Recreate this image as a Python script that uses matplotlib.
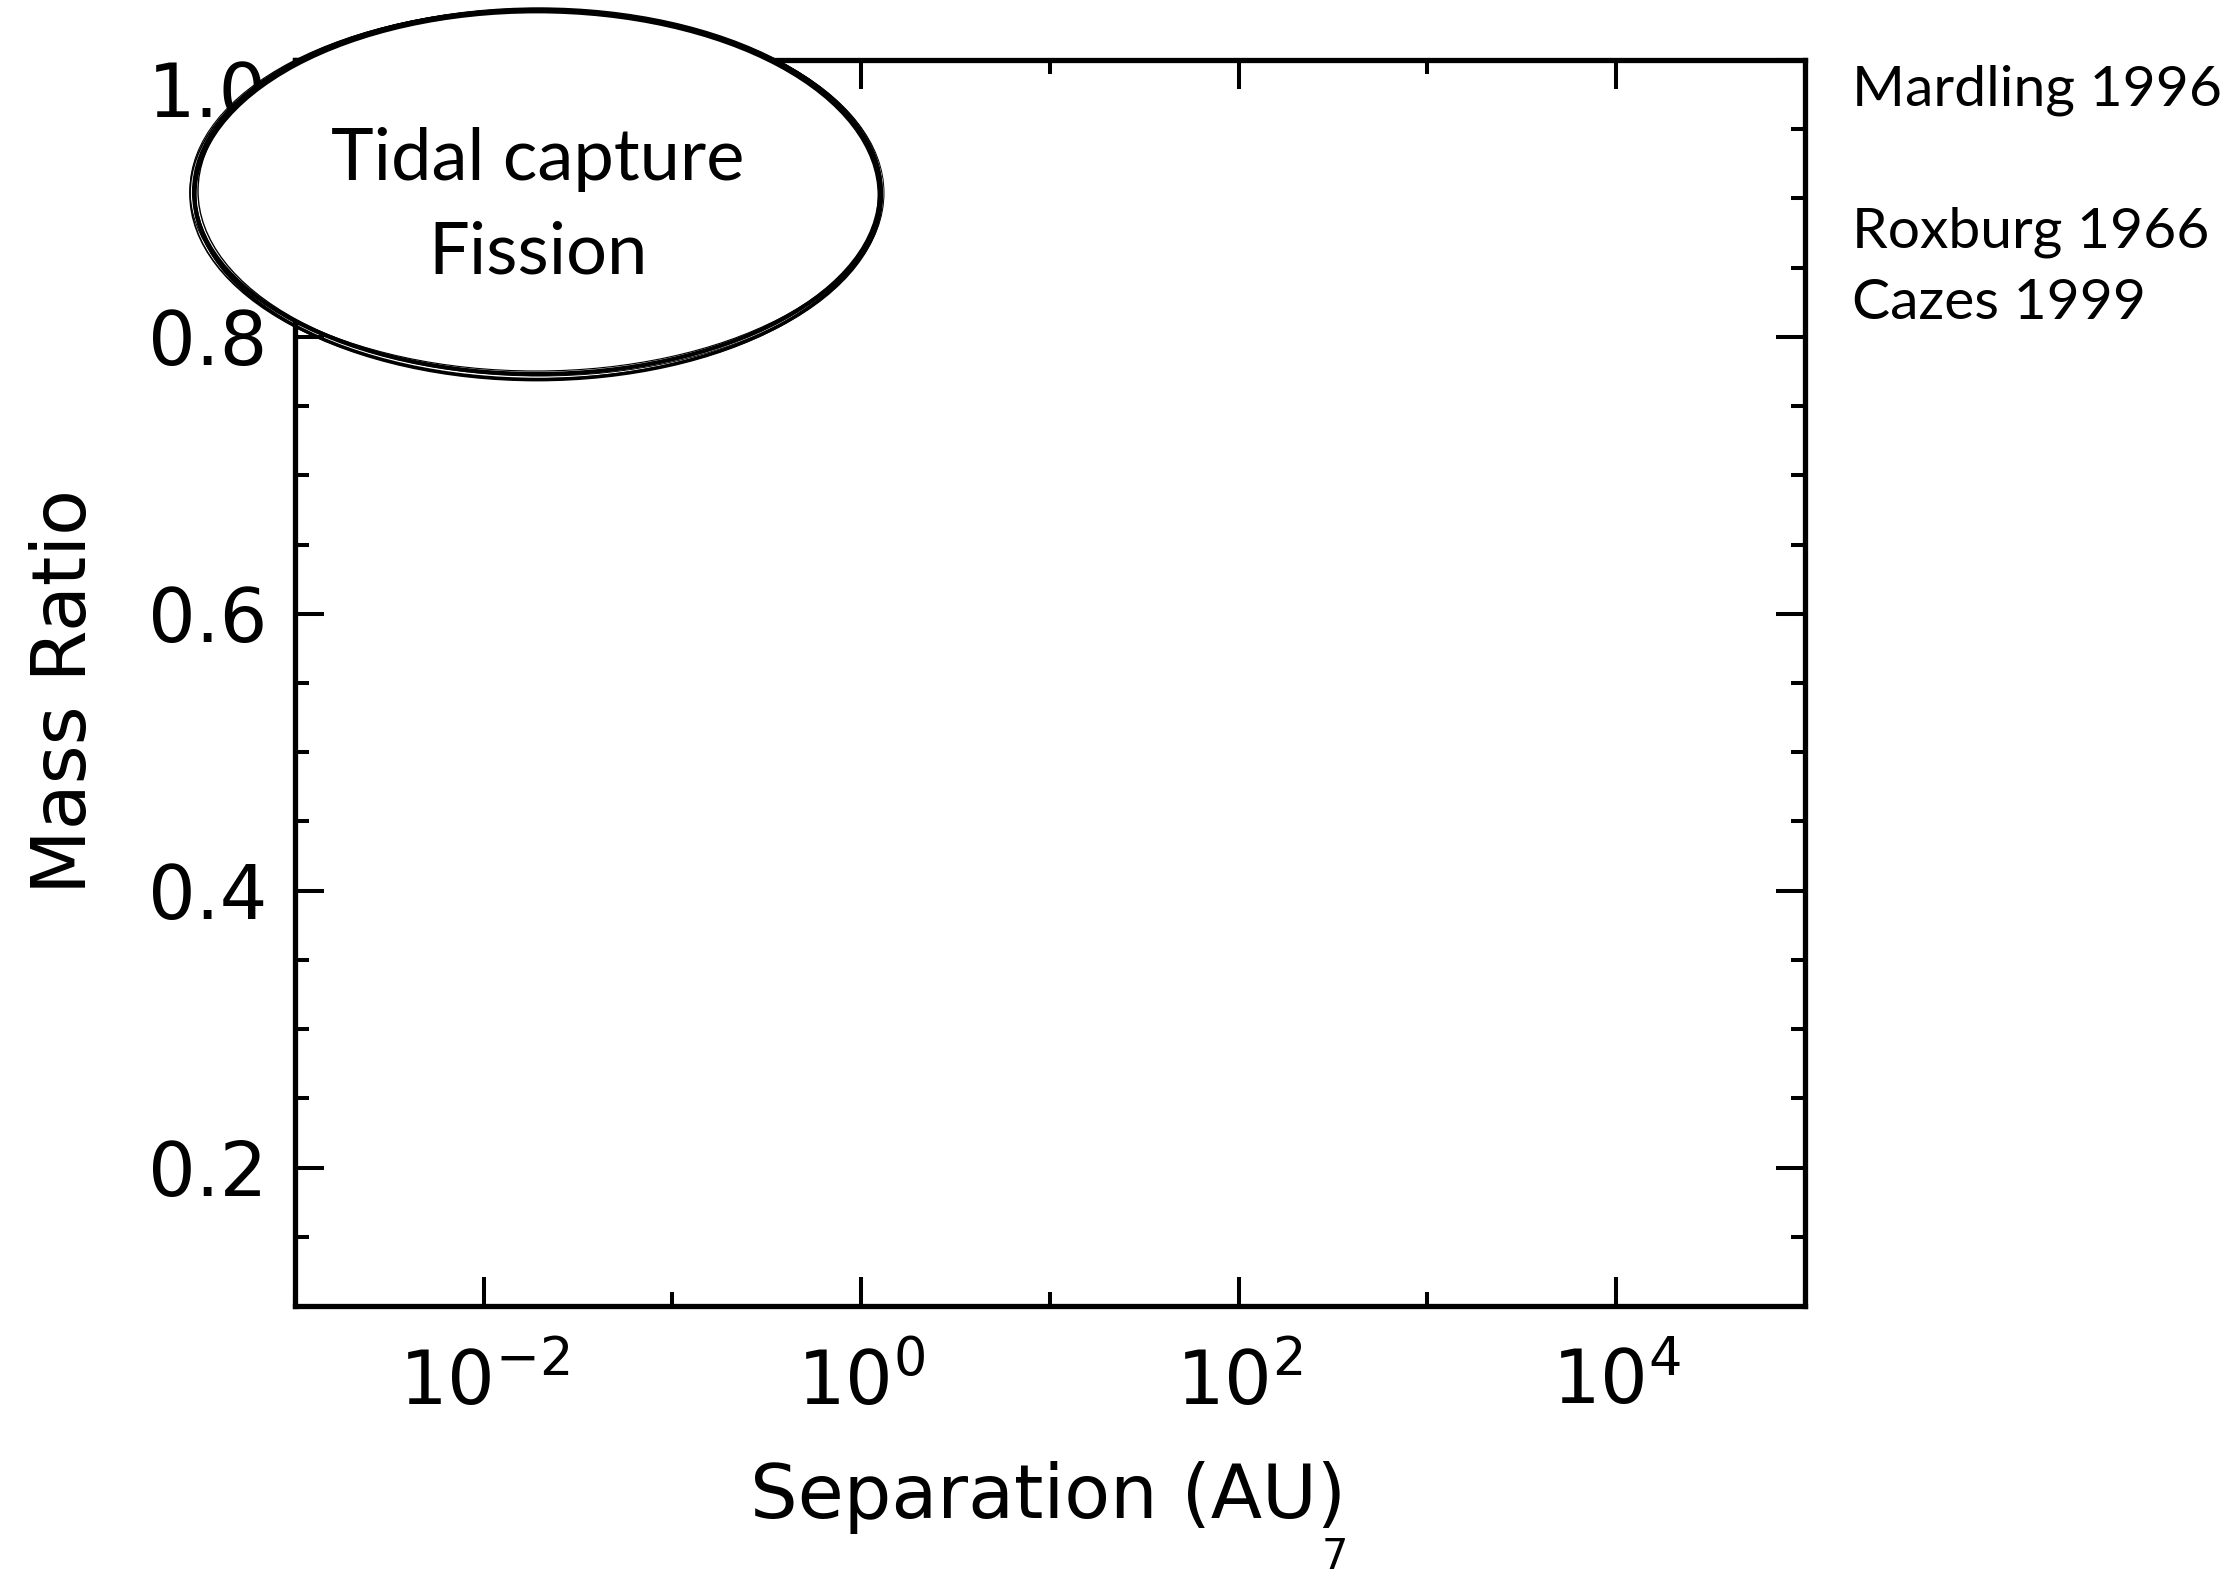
import numpy as np
import matplotlib
matplotlib.use('Agg')
import matplotlib.pyplot as plt
from matplotlib.patches import Ellipse

# axis setup
x_range = [1e-3, 1e5]
y_range = [0.1, 1.0]
xticks_major = [1e-2, 1e0, 1e2, 1e4]
xtick_labels = [r'$10^{-2}$', r'$10^{0}$', r'$10^{2}$', r'$10^{4}$']
xticks_minor = [1e-3, 1e-1, 1e1, 1e3, 1e5]
yticks_major = [0.2, 0.4, 0.6, 0.8, 1.0]
ytick_labels = ['0.2', '0.4', '0.6', '0.8', '1.0']
yticks_minor = [0.15, 0.25, 0.3, 0.35, 0.45, 0.5, 0.55, 0.65, 0.7, 0.75, 0.85, 0.9, 0.95]

bubble_lines = ['Tidal capture', 'Fission']
references = ['Mardling 1996', 'Roxburg 1966', 'Cazes 1999']
page_number = '7'

W, H = 2237, 1579
fig = plt.figure(figsize=(W / 100, H / 100), dpi=100)
fig.patch.set_facecolor('white')
ax = fig.add_axes([295 / W, 1 - 1306 / H, 1510 / W, 1246 / H])

ax.set_xscale('log')
ax.set_xlim(*x_range)
ax.set_ylim(*y_range)
ax.set_xticks(xticks_major, xtick_labels)
ax.set_xticks(xticks_minor, minor=True)
ax.xaxis.set_minor_formatter(plt.NullFormatter())
ax.set_yticks(yticks_major, ytick_labels)
ax.set_yticks(yticks_minor, minor=True)

for s in ax.spines.values():
    s.set_linewidth(3.8)
ax.tick_params(which='both', direction='in', top=True, right=True, width=2.9, labelsize=54)
ax.tick_params(which='major', length=21)
ax.tick_params(which='minor', length=10)
ax.tick_params(axis='y', pad=20)
ax.tick_params(axis='x', pad=30)
# top label sits under the tick like the original
for lbl in ax.get_yticklabels():
    if lbl.get_text() == '1.0':
        lbl.set_va('top')

fig.text(1048 / W, 1 - 1518 / H, 'Separation (AU)', fontsize=54, ha='center', va='baseline')
fig.text(86 / W, 1 - 692 / H, 'Mass Ratio', fontsize=54, ha='center', va='baseline',
         rotation=90, rotation_mode='anchor')
fig.text(1335 / W, 1 - 1578 / H, page_number, fontsize=30, ha='center', va='bottom')

# reference list on the right
ref_base = [105, 248, 319]
for txt, yb in zip(references, ref_base):
    fig.text(1852 / W, 1 - yb / H, txt, fontsize=41, family='Lato', ha='left', va='baseline')

# sketchy bubble, drawn on top of the axes
cx, cy, ew, eh = 537, 192, 686, 364
bubble = Ellipse((cx / W, 1 - cy / H), ew / W, eh / H, transform=fig.transFigure,
                 facecolor='white', edgecolor='black', lw=3.0, zorder=5)
fig.add_artist(bubble)
# extra strokes: (dx, dy, dw, dh, lw) in pixels
strokes = [(-2, 2, 4, 6, 1.2), (2, -1, -4, 2, 1.0), (1, 3, 2, 4, 1.8),
           (-1, -2, 6, -2, 0.8), (0, 4, -2, 4, 2.0), (3, 1, 2, 2, 0.7)]
for dx, dy, dw, dh, lw in strokes:
    fig.add_artist(Ellipse(((cx + dx) / W, 1 - (cy + dy) / H), (ew + dw) / W, (eh + dh) / H,
                           transform=fig.transFigure, facecolor='none', edgecolor='black',
                           lw=lw, zorder=6))

line_base = [180, 273]
for txt, yb in zip(bubble_lines, line_base):
    fig.text(538 / W, 1 - yb / H, txt, fontsize=52, family='Lato', ha='center', va='baseline', zorder=7)

fig.savefig('out.png', dpi=100)
